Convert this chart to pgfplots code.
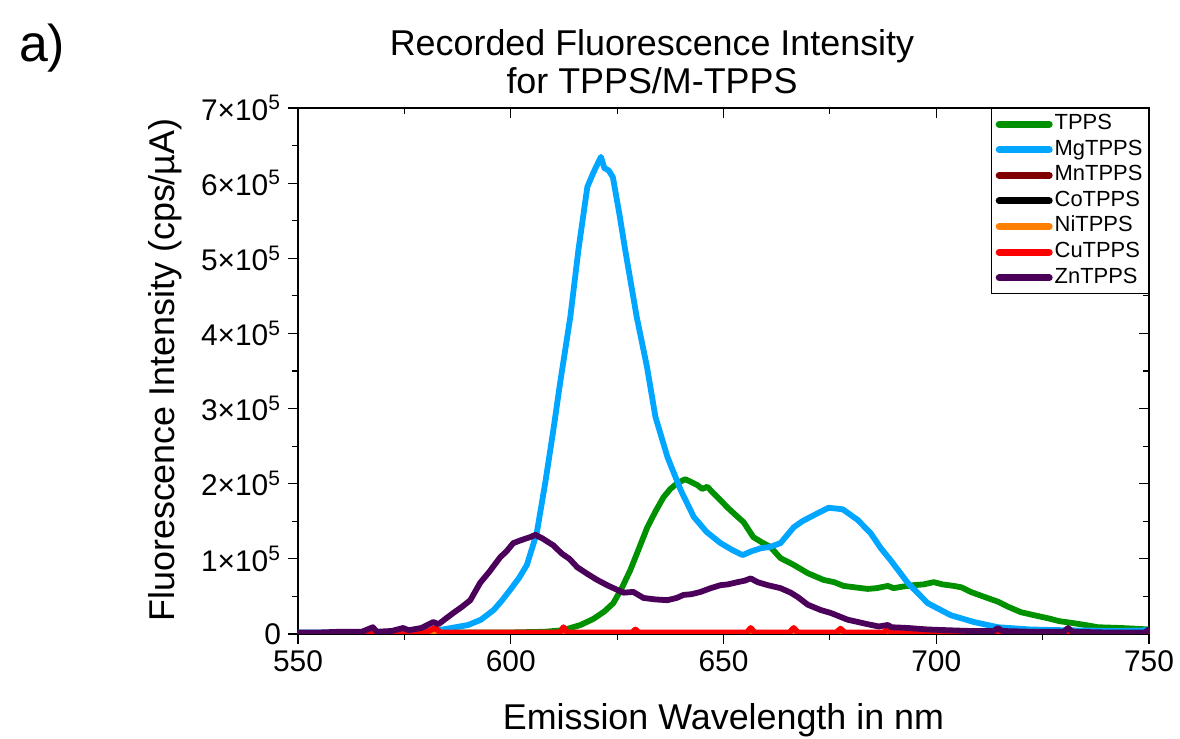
\documentclass[border=0pt]{standalone}
\usepackage{fontspec}
\setmainfont{Liberation Sans}
\usepackage{pgfplots}
\pgfplotsset{compat=1.18}

\definecolor{cTPPS}{RGB}{0,145,0}
\definecolor{cMg}{RGB}{0,166,255}
\definecolor{cMn}{RGB}{128,0,0}
\definecolor{cCo}{RGB}{0,0,0}
\definecolor{cNi}{RGB}{255,128,0}
\definecolor{cCu}{RGB}{255,0,0}
\definecolor{cZn}{RGB}{75,0,90}

\pgfplotsset{
  common/.style={
    at={(0,0)}, anchor=south west,
    width=425.5bp, height=263bp, scale only axis,
    xmin=550, xmax=750, ymin=0, ymax=7,
    xtick={550,600,650,700,750}, minor x tick num=1,
    ytick={0,1,2,3,4,5,6,7}, minor y tick num=1,
    major tick length=5bp, minor tick length=3bp,
    tick style={black, line width=0.6bp},
    axis line style={line width=0.8bp},
  }
}

\begin{document}
\begin{tikzpicture}
\path[use as bounding box] (-149bp,-52.5bp) rectangle (441bp,317bp);
\begin{axis}[common,
  xtick pos=top, ytick pos=right, tick align=inside,
  xticklabels={}, yticklabels={}, axis line style={draw=none}]
\end{axis}
\begin{axis}[common,
  xtick pos=bottom, ytick pos=left, tick align=outside,
  /pgf/number format/assume math mode=true,
  /pgf/number format/1000 sep={},
  ticklabel style={font=\fontsize{15}{17}\selectfont},
  yticklabels={0,1×10\textsuperscript{5},2×10\textsuperscript{5},3×10\textsuperscript{5},4×10\textsuperscript{5},5×10\textsuperscript{5},6×10\textsuperscript{5},7×10\textsuperscript{5}},
  every axis plot/.append style={line width=2.9bp, line join=round, line cap=round},
  legend cell align=left,
  legend image code/.code={\draw[#1, line width=3.5bp, line cap=round] (0bp,0bp) -- (25bp,0bp);},
  legend style={at={(1,1)}, anchor=north east, draw=black, line width=0.6bp, fill=white,
    font=\fontsize{11}{12}\selectfont, inner xsep=2bp, inner ysep=1.5bp,
    row sep=0.2bp,
    nodes={inner sep=1bp, text height=8bp, text depth=2.6bp}},
]
\addplot[cTPPS] coordinates {
(550,0.01)(570,0.01)(590,0.02)(600,0.02)(608,0.03)(612.4,0.05)(614,0.08)(616.4,0.12)
(619.4,0.2)(622,0.3)(624.1,0.41)(626,0.6)(628.1,0.85)(630,1.12)(632.1,1.42)(634,1.63)
(635.9,1.82)(637.5,1.93)(639.2,2.01)(641,2.06)(642.5,2.02)(643.9,1.98)(645,1.93)(646.2,1.96)
(647.5,1.88)(649.3,1.78)(651,1.68)(653.3,1.56)(654.7,1.49)(657,1.29)(659,1.22)(661,1.16)
(663.4,1.01)(666.5,0.92)(669.8,0.81)(673.5,0.72)(676,0.69)(678.2,0.64)(681,0.62)(683.9,0.60)
(686,0.61)(688.6,0.64)(690,0.61)(692,0.63)(694.7,0.65)(697,0.66)(699.4,0.69)(701.5,0.66)
(704.1,0.64)(706,0.62)(708.1,0.56)(711,0.50)(714.5,0.43)(717,0.36)(719.9,0.29)(723,0.25)
(726.2,0.21)(729,0.17)(731.6,0.15)(735,0.12)(738,0.09)(743.4,0.08)(747,0.07)(750,0.06)
};
\addlegendentry{TPPS}
\addplot[cMg] coordinates {
(550,0.02)(560,0.02)(570,0.02)(578,0.03)(583,0.05)(586,0.08)(590,0.12)(593,0.19)(596,0.32)
(598,0.45)(600.3,0.62)(602,0.75)(603.8,0.92)(606.1,1.34)(608.1,2.01)(610,2.71)(611.6,3.34)
(614,4.22)(615.9,5.11)(618,5.95)(619.5,6.15)(621.2,6.35)(622,6.20)(623,6.17)(624,6.08)
(625.5,5.60)(626.9,5.11)(629.6,4.22)(632,3.56)(634,2.89)(636.8,2.36)(639.9,1.92)(643,1.56)
(646,1.36)(649.3,1.21)(652,1.12)(654.5,1.05)(656.5,1.10)(658.7,1.14)(661,1.16)(663.4,1.21)
(666.5,1.42)(668.5,1.50)(671.2,1.58)(674.7,1.68)(678,1.66)(681.5,1.52)(684.6,1.34)(687,1.14)
(689.3,0.98)(693.3,0.68)(698,0.41)(703.4,0.25)(708.8,0.16)(714.5,0.09)(722.2,0.06)(730,0.05)
(743,0.04)(750,0.05)
};
\addlegendentry{MgTPPS}
\addplot[cMn] coordinates {(550,0.01)(600,0.01)(650,0.01)(700,0.01)(750,0.01)};
\addlegendentry{MnTPPS}
\addplot[cCo] coordinates {(550,0.01)(600,0.01)(650,0.01)(700,0.01)(750,0.01)};
\addlegendentry{CoTPPS}
\addplot[cNi] coordinates {(550,0.01)(600,0.01)(650,0.01)(700,0.01)(750,0.01)};
\addlegendentry{NiTPPS}
\addplot[cCu] coordinates {
(550,0.01)(575,0.015)(580,0.02)(582.2,0.08)(583.5,0.02)(600,0.02)(611.5,0.02)(612.4,0.09)
(613.3,0.02)(628.5,0.02)(629.3,0.06)(630,0.02)(655.5,0.02)(656.4,0.08)(657.3,0.02)
(665.5,0.02)(666.5,0.08)(667.5,0.02)(676.5,0.02)(677.5,0.07)(678.5,0.02)(687.6,0.02)
(688.6,0.06)(689.6,0.02)(700,0.01)(750,0.01)
};
\addlegendentry{CuTPPS}
\addplot[cZn] coordinates {
(550,0.02)(555,0.02)(560,0.03)(565,0.03)(567.6,0.09)(568.5,0.03)(572,0.04)(574.7,0.08)
(576,0.05)(579,0.08)(581.8,0.16)(583,0.13)(586.5,0.28)(588.5,0.36)(590.5,0.45)(592.8,0.68)
(595,0.83)(597.5,1.02)(599,1.10)(600.6,1.21)(602.5,1.25)(604.6,1.29)(605.8,1.32)(607.5,1.27)
(610,1.18)(612,1.07)(613.8,1.00)(615.6,0.89)(618,0.80)(620.3,0.72)(623,0.64)(626.5,0.55)
(628.8,0.56)(631.2,0.48)(634,0.46)(636.8,0.45)(639,0.48)(640.6,0.52)(642.5,0.53)(644.6,0.56)
(647,0.61)(649.3,0.65)(651,0.66)(653.3,0.69)(655,0.71)(656.4,0.74)(658,0.69)(660.4,0.65)
(663.4,0.61)(665.8,0.55)(667.5,0.49)(669.8,0.39)(672.8,0.32)(675.2,0.28)(679.2,0.19)
(683.9,0.13)(686.5,0.10)(688.6,0.12)(689.5,0.09)(693.3,0.08)(698,0.06)(702.7,0.05)(708,0.04)
(713.5,0.04)(714.5,0.08)(715.5,0.04)(722,0.03)(730,0.03)(731,0.08)(732,0.03)(740,0.02)
(749,0.02)(750,0.06)
};
\addlegendentry{ZnTPPS}
\end{axis}
\node[anchor=base, align=center, font=\fontsize{18}{20}\selectfont] at (177bp,289bp) {Recorded Fluorescence Intensity};
\node[anchor=base, align=center, font=\fontsize{18}{20}\selectfont] at (177bp,270bp) {for TPPS/M-TPPS};
\node[anchor=base, font=\fontsize{18}{20}\selectfont] at (212.75bp,-47.5bp) {Emission Wavelength in nm};
\node[rotate=90, anchor=center, font=\fontsize{18}{20}\selectfont] at (-66.5bp,132bp) {Fluorescence Intensity (cps/µA)};
\node[anchor=base west, font=\fontsize{26}{28}\selectfont] at (-143bp,286bp) {a)};
\end{tikzpicture}
\end{document}
